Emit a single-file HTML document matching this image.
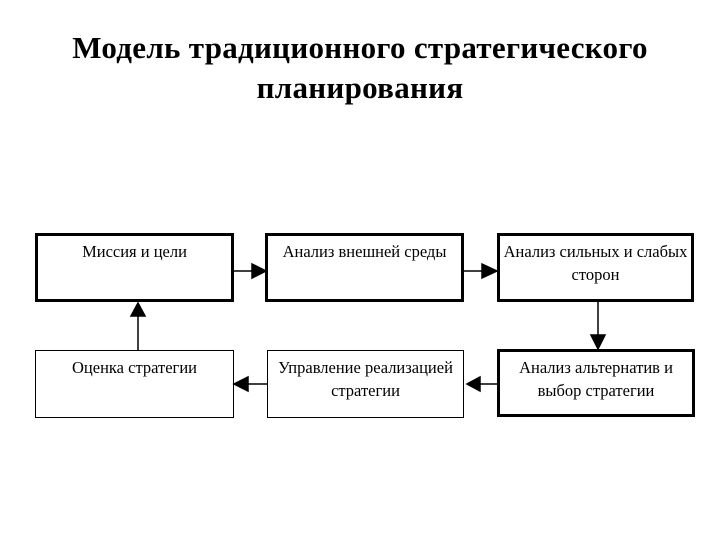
<!DOCTYPE html>
<html><head><meta charset="utf-8"><style>
body{margin:0;width:720px;height:540px;background:#fff;position:relative;font-family:"Liberation Serif",serif;overflow:hidden}
.t{position:absolute;left:0;width:720px;text-align:center;font-weight:bold;font-size:31px;line-height:40px;top:28px;color:#000;letter-spacing:0.3px}
.b{position:absolute;box-sizing:border-box;border:3px solid #000;text-align:center;font-size:16.5px;line-height:23px;padding-top:4px;background:#fff}
.thin{border-width:1px;padding-top:5px}
</style></head><body>
<div class="t">Модель традиционного стратегического<br>планирования</div>
<div class="b" style="left:35px;top:233px;width:199px;height:69px">Миссия и цели</div>
<div class="b" style="left:265px;top:233px;width:199px;height:69px">Анализ внешней среды</div>
<div class="b" style="left:497px;top:233px;width:197px;height:69px">Анализ сильных и слабых<br>сторон</div>
<div class="b thin" style="left:35px;top:350px;width:199px;height:68px">Оценка стратегии</div>
<div class="b thin" style="left:267px;top:350px;width:197px;height:68px">Управление реализацией<br>стратегии</div>
<div class="b" style="left:497px;top:349px;width:198px;height:68px">Анализ альтернатив и<br>выбор стратегии</div>
<svg width="720" height="540" style="position:absolute;left:0;top:0">
<g stroke="#000" stroke-width="1.5" fill="#000">
<line x1="234" y1="271" x2="254" y2="271"/><polygon points="252,264 266,271 252,278"/>
<line x1="464" y1="271" x2="484" y2="271"/><polygon points="482,264 497,271 482,278"/>
<line x1="598" y1="302" x2="598" y2="338"/><polygon points="591,335 605,335 598,349"/>
<line x1="497" y1="384" x2="478" y2="384"/><polygon points="480,377 480,391 467,384"/>
<line x1="267" y1="384" x2="246" y2="384"/><polygon points="248,377 248,391 234,384"/>
<line x1="138" y1="350" x2="138" y2="314"/><polygon points="131,316 145,316 138,303"/>
</g></svg>
</body></html>
